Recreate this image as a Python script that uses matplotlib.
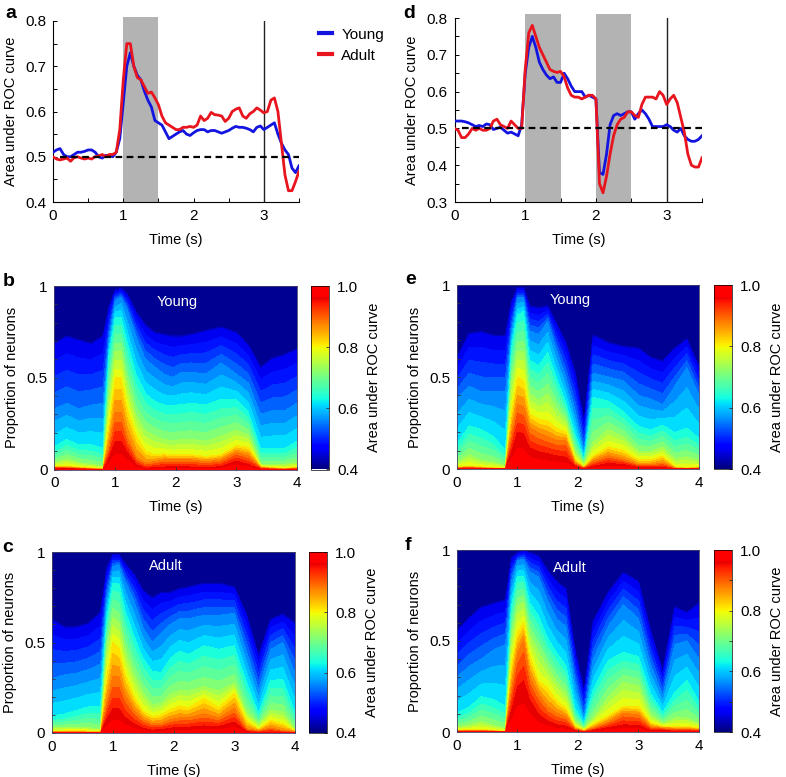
import numpy as np
import matplotlib
matplotlib.use('Agg')
import matplotlib.pyplot as plt
from matplotlib.colors import LinearSegmentedColormap, Normalize
from matplotlib.cm import ScalarMappable
from matplotlib.ticker import MultipleLocator

plt.rcParams['font.family'] = ['Liberation Sans', 'DejaVu Sans']
plt.rcParams['font.size'] = 10.5

W, H = 786, 777
BLUE = '#1414e0'
RED = '#e8141e'
GREY = '#b3b3b3'

# line panels, sampled every 0.05 s from 0 to 3.5 s
t_line = np.arange(71) * 0.05

a_young = [.51, .515, .518, .505, .50, .50, .505, .51, .51, .512, .515, .515, .51, .50, .497, .503, .503, .50, .51, .54,
           .62, .70, .73, .70, .68, .67, .645, .625, .61, .58, .575, .57, .555, .54, .545, .55, .555, .558, .55, .547,
           .553, .558, .56, .56, .555, .558, .558, .555, .552, .555, .558, .563, .567, .565, .565, .563, .56, .555, .565, .568,
           .56, .565, .57, .575, .55, .53, .515, .505, .475, .465, .48]
a_adult = [.50, .495, .493, .495, .497, .49, .498, .50, .497, .495, .497, .495, .50, .502, .505, .50, .505, .505, .51, .56,
           .67, .75, .75, .70, .675, .67, .655, .64, .643, .63, .615, .59, .575, .57, .565, .56, .56, .565, .565, .567,
           .565, .57, .59, .58, .585, .598, .593, .592, .59, .578, .585, .60, .605, .608, .59, .585, .595, .60, .608, .603,
           .597, .60, .625, .63, .60, .53, .46, .425, .425, .445, .468]
d_young = [.52, .52, .52, .518, .515, .51, .505, .508, .505, .512, .51, .497, .50, .503, .495, .487, .49, .485, .48, .51,
           .65, .72, .75, .72, .68, .66, .645, .635, .64, .625, .625, .65, .635, .615, .60, .60, .60, .585, .59, .585,
           .58, .38, .375, .43, .51, .535, .54, .535, .54, .545, .545, .525, .54, .55, .54, .525, .505, .505, .505, .505,
           .51, .505, .495, .49, .50, .48, .47, .465, .465, .47, .48]
d_adult = [.50, .495, .475, .475, .485, .50, .495, .50, .495, .495, .50, .52, .525, .51, .505, .50, .52, .51, .50, .50,
           .66, .76, .78, .75, .72, .70, .68, .66, .655, .652, .655, .64, .61, .59, .585, .585, .58, .585, .59, .59,
           .58, .35, .325, .37, .43, .48, .51, .525, .53, .545, .545, .535, .53, .565, .585, .585, .585, .58, .60, .59,
           .565, .58, .59, .57, .53, .49, .43, .40, .395, .395, .42]

# heat panels: proportion of neurons above each AUC level, at each time knot
t_knots = [0, .2, .4, .6, .8, .9, 1, 1.1, 1.2, 1.35, 1.5, 1.65, 1.8, 1.95, 2.1, 2.25, 2.5, 2.75, 3, 3.2, 3.4, 3.6, 3.8, 4]
auc_levels = [.96, .88, .80, .72, .63, .55, .45]

b_front = [
    [.003, .002, .002, .001, 0, .05, .13, .13, .08, .02, .003, .005, .008, .01, .01, .008, .006, .01, .04, .02, 0, 0, 0, 0],
    [.01, .01, .006, .003, .001, .12, .30, .30, .17, .06, .03, .04, .05, .05, .05, .05, .04, .05, .09, .07, .01, .004, .002, .006],
    [.015, .018, .012, .008, .004, .24, .50, .50, .33, .18, .10, .08, .085, .08, .08, .08, .07, .08, .13, .12, .015, .01, .005, .012],
    [.04, .06, .04, .03, .02, .42, .65, .65, .48, .30, .22, .19, .17, .16, .17, .17, .16, .19, .22, .19, .03, .03, .03, .04],
    [.11, .15, .12, .12, .10, .62, .82, .82, .68, .50, .40, .36, .34, .34, .34, .35, .34, .37, .37, .30, .10, .10, .10, .14],
    [.33, .36, .33, .35, .36, .72, .92, .94, .87, .72, .60, .56, .52, .50, .53, .53, .52, .58, .52, .47, .30, .32, .32, .36],
    [.68, .72, .70, .68, .72, .88, .97, .98, .95, .85, .78, .74, .73, .72, .72, .73, .75, .77, .74, .67, .55, .60, .62, .65],
]
c_front = [
    [.002, .001, .001, .001, 0, .06, .11, .11, .07, .04, .02, .01, .015, .02, .025, .025, .03, .03, .05, .005, 0, .002, 0, 0],
    [.004, .003, .003, .002, .001, .15, .30, .30, .20, .12, .07, .05, .05, .07, .08, .08, .10, .08, .13, .02, .01, .025, .01, .005],
    [.01, .01, .012, .01, .008, .30, .50, .47, .33, .20, .12, .09, .10, .13, .15, .14, .19, .14, .22, .07, .02, .07, .05, .01],
    [.03, .03, .03, .03, .02, .47, .65, .62, .47, .33, .23, .16, .17, .22, .24, .24, .26, .24, .28, .12, .05, .13, .12, .02],
    [.08, .09, .11, .13, .13, .62, .82, .82, .67, .52, .40, .33, .32, .40, .44, .42, .47, .45, .47, .27, .10, .28, .28, .10],
    [.30, .32, .33, .35, .38, .75, .92, .93, .84, .73, .58, .50, .55, .60, .63, .63, .65, .65, .66, .45, .24, .46, .50, .33],
    [.62, .58, .58, .60, .66, .90, .98, .98, .93, .87, .78, .74, .77, .77, .79, .80, .82, .82, .80, .65, .42, .62, .65, .60],
]
e_front = [
    [.002, .002, .001, .001, 0, .08, .18, .17, .10, .08, .07, .06, .05, .01, 0, .01, .025, .02, .005, .005, .005, 0, 0, 0],
    [.005, .008, .005, .002, .001, .18, .34, .33, .22, .19, .17, .15, .15, .03, .005, .04, .07, .05, .02, .02, .03, .003, .002, .003],
    [.01, .015, .01, .006, .004, .30, .50, .48, .30, .27, .26, .22, .20, .05, .01, .07, .12, .10, .05, .05, .07, .01, .005, .01],
    [.04, .08, .05, .04, .02, .48, .65, .65, .42, .38, .42, .33, .27, .10, .03, .15, .22, .18, .10, .10, .12, .06, .07, .05],
    [.12, .22, .20, .16, .08, .65, .83, .85, .58, .55, .62, .48, .35, .18, .05, .38, .36, .30, .22, .20, .23, .18, .20, .15],
    [.38, .45, .42, .42, .42, .75, .93, .93, .75, .73, .80, .64, .50, .32, .10, .52, .50, .48, .40, .38, .35, .45, .55, .40],
    [.60, .73, .74, .72, .72, .90, .98, .98, .88, .87, .88, .78, .68, .52, .25, .72, .68, .66, .65, .60, .58, .65, .70, .55],
]
f_front = [
    [.002, .002, .003, .002, 0, .10, .22, .25, .16, .08, .05, .03, .025, .005, 0, .005, .02, .03, .03, .005, .005, .003, .003, .002],
    [.005, .005, .006, .004, .001, .22, .42, .50, .30, .20, .13, .10, .08, .015, .003, .02, .05, .10, .09, .025, .02, .015, .015, .01],
    [.01, .01, .012, .008, .003, .36, .55, .60, .42, .28, .24, .17, .13, .03, .01, .04, .09, .14, .14, .05, .03, .03, .03, .02],
    [.03, .04, .06, .04, .02, .52, .70, .72, .55, .45, .36, .28, .22, .06, .02, .08, .20, .28, .26, .10, .05, .08, .08, .05],
    [.09, .12, .18, .16, .12, .68, .85, .85, .70, .62, .50, .42, .35, .12, .04, .22, .38, .42, .40, .20, .10, .20, .27, .15],
    [.30, .36, .40, .45, .48, .83, .94, .95, .88, .85, .72, .62, .58, .28, .08, .40, .58, .70, .62, .37, .20, .48, .50, .40],
    [.55, .62, .68, .70, .72, .95, .98, .99, .98, .96, .88, .82, .78, .45, .22, .60, .76, .87, .82, .55, .33, .68, .65, .70],
]

# jet up to pure red, red held over the top of the scale
jet_part = plt.cm.jet(np.linspace(0, .91, 240))
red_part = np.tile([1., 0., 0., 1.], (16, 1))
jet_cut = LinearSegmentedColormap.from_list('jet_cut', np.vstack([jet_part, red_part]))
norm = Normalize(.4, 1.0)


def axes_px(x0, y0, x1, y1):
    return fig.add_axes([x0 / W, 1 - y1 / H, (x1 - x0) / W, (y1 - y0) / H])


def line_panel(box, young, adult, ymin, spans, letter, letter_xy):
    ax = axes_px(*box)
    for s in spans:
        ax.axvspan(s, s + .5, ymin=0, ymax=1.02, color=GREY, lw=0, clip_on=False, zorder=1)
    ax.plot([3, 3], [ymin, .8], color='#222222', lw=1, zorder=2)
    ax.plot(t_line, young, color=BLUE, lw=2, zorder=3, label='Young')
    ax.plot(t_line, adult, color=RED, lw=2, zorder=4, label='Adult')
    ax.plot([.1, 3.5], [.5, .5], color='k', lw=1.6, ls=(0, (3, 2)), zorder=5)
    ax.set_xlim(0, 3.5)
    ax.set_ylim(ymin, .8)
    ax.set_xticks([0, 1, 2, 3])
    ax.xaxis.set_minor_locator(MultipleLocator(.5))
    ax.set_yticks(np.arange(ymin, .81, .1))
    ax.set_yticklabels([f'{v:.1f}' for v in np.arange(ymin, .81, .1)])
    ax.yaxis.set_minor_locator(MultipleLocator(.05))
    ax.tick_params(which='both', direction='in', length=3, width=.7, pad=5, labelsize=11)
    ax.spines[['top', 'right']].set_visible(False)
    ax.set_xlabel('Time (s)', fontsize=10.5, labelpad=7)
    ax.set_ylabel('Area under ROC curve', fontsize=10.5, labelpad=5)
    fig.text(letter_xy[0] / W, 1 - letter_xy[1] / H, letter, fontsize=14, fontweight='bold', va='center')
    return ax


def heat_panel(box, cbox, front, title, title_xy, letter, letter_xy):
    ax = axes_px(*box)
    t_fine = np.linspace(0, 4, 321)
    p_fine = np.linspace(0, 1, 401)
    z = np.zeros((len(p_fine), len(t_fine)))
    rows = np.array(front)
    for j, t in enumerate(t_fine):
        edge = np.array([np.interp(t, t_knots, r) for r in rows])
        edge = np.maximum.accumulate(edge + np.arange(len(edge)) * 1e-4)
        # navy sits straight above the top edge
        z[:, j] = np.interp(p_fine, np.r_[0, edge + 1e-4, edge[-1] + .015],
                            np.r_[1.0, auc_levels, .4])
    ax.contourf(t_fine, p_fine, z, levels=np.linspace(.4, 1.0, 25), cmap=jet_cut, norm=norm, antialiased=False)
    ax.set_xlim(0, 4)
    ax.set_ylim(0, 1)
    ax.set_xticks([0, 1, 2, 3, 4])
    ax.set_yticks([0, .5, 1])
    ax.set_yticklabels(['0', '0.5', '1'])
    ax.yaxis.set_minor_locator(MultipleLocator(.1))
    ax.tick_params(which='both', direction='in', length=2.5, width=.6, pad=5, labelsize=11, color='#333333')
    for sp in ax.spines.values():
        sp.set_linewidth(.6)
        sp.set_color('#444466')
    ax.set_xlabel('Time (s)', fontsize=10.5, labelpad=7)
    ax.set_ylabel('Proportion of neurons', fontsize=10.5, labelpad=5)
    ax.text(title_xy[0], title_xy[1], title, color='white', fontsize=10.5, ha='center', va='center')
    fig.text(letter_xy[0] / W, 1 - letter_xy[1] / H, letter, fontsize=14, fontweight='bold', va='center')

    cax = axes_px(*cbox)
    cb = fig.colorbar(ScalarMappable(norm=norm, cmap=jet_cut), cax=cax)
    cb.set_ticks([.4, .6, .8, 1.0])
    cb.ax.set_yticklabels(['0.4', '0.6', '0.8', '1.0'])
    cb.ax.yaxis.set_minor_locator(MultipleLocator(.1))
    cb.ax.tick_params(which='both', direction='in', length=2.5, width=.6, pad=6, labelsize=11, color='#333333')
    cb.outline.set_linewidth(.5)
    cb.set_label('Area under ROC curve', fontsize=10.5, labelpad=6.5)


fig = plt.figure(figsize=(W / 100, H / 100), dpi=100, facecolor='white')

ax_a = line_panel((53, 21, 299, 202), a_young, a_adult, .4, [1], 'a', (5, 13))
line_panel((454.5, 18, 702, 202), d_young, d_adult, .3, [1, 2], 'd', (403, 13))

leg = ax_a.legend(loc='upper left', bbox_to_anchor=(1.07, .98), frameon=False, fontsize=11,
                  handlelength=.85, handletextpad=.6, labelspacing=.45, borderpad=.2, borderaxespad=0)
for h in leg.get_lines():
    h.set_linewidth(3)

heat_panel((54.5, 286, 297, 469.5), (311, 286, 329, 469.5), b_front, 'Young', (2.02, .915), 'b', (3, 281))
heat_panel((457, 285, 699, 469), (714, 285, 732, 469), e_front, 'Young', (1.87, .917), 'e', (405, 280))
heat_panel((52, 552, 295, 733), (309, 552, 327, 733), c_front, 'Adult', (1.88, .92), 'c', (2, 547))
heat_panel((457, 550, 699, 732), (714, 550, 732, 732), f_front, 'Adult', (1.87, .90), 'f', (405, 546))

fig.savefig('out.png', dpi=100, facecolor='white')
